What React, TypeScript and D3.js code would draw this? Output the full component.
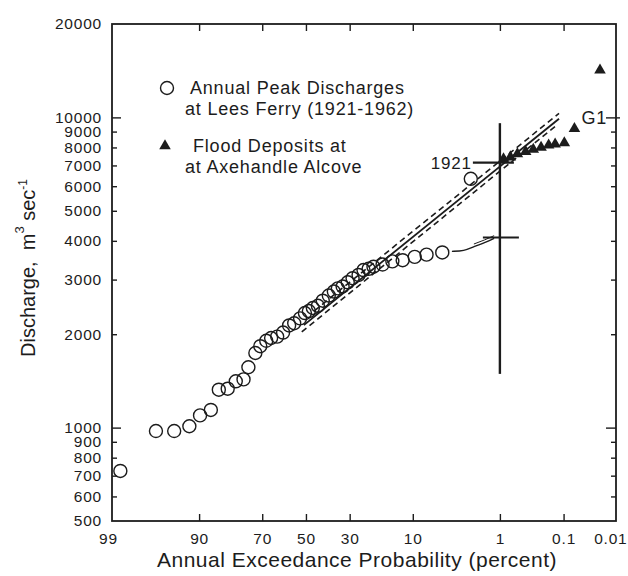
import React, { useEffect, useRef } from 'react';
import * as d3 from 'd3';

// annual peak discharges at Lees Ferry 1921-1962 (exceedance %, m3/s)
const peakProb = [98.7, 96.4, 94.3, 91.9, 89.8, 87.3, 85.2, 82.6, 80.0, 77.3, 75.5, 72.8, 70.8, 68.3,
  66.2, 63.5, 60.8, 58.0, 55.6, 52.8, 50.5, 48.6, 46.7, 44.3, 42.0, 39.2, 36.9, 35.1, 33.0, 30.8,
  28.8, 26.4, 24.5, 22.6, 20.9, 17.9, 15.0, 12.3, 9.6, 7.4, 5.1, 2.4];
const peakQ = [725, 975, 975, 1010, 1095, 1140, 1325, 1335, 1410, 1430, 1565, 1740, 1830, 1905,
  1945, 1965, 2025, 2135, 2170, 2250, 2340, 2375, 2430, 2470, 2565, 2665, 2745, 2810, 2850, 2940,
  3030, 3105, 3220, 3250, 3300, 3355, 3435, 3465, 3550, 3610, 3670, 6340];

// flood deposits at Axehandle Alcove
const depositProb = [0.89, 0.71, 0.56, 0.42, 0.32, 0.24, 0.18, 0.14, 0.097, 0.064, 0.021];
const depositQ = [7340, 7450, 7620, 7750, 7880, 8000, 8130, 8200, 8270, 9190, 14190];

// fitted curve + confidence limits
const fitProb = [51, 0.12];
const fitQ = [2140, 9900];
const upperProb = [46, 0.12];
const upperQ = [2380, 10300];
const lowerProb = [52, 0.14];
const lowerQ = [2035, 9350];

// 1921 flood marker
const markProb = 1;
const markQ = [1490, 9580];
const mark1921Q = 7150;
const markGaugeQ = 4100;
const connectorProb = [4.0, 2.9, 2.2, 1.6, 1.2];
const connectorQ = [3700, 3710, 3830, 3950, 4075];
const g1Q = 10000;

const probTicks = [99, 90, 70, 50, 30, 10, 1, 0.1, 0.01];
const probLabels = ['99', '90', '70', '50', '30', '10', '1', '0.1', '0.01'];
const qTicks = [500, 600, 700, 800, 900, 1000, 2000, 3000, 4000, 5000, 6000, 7000, 8000, 9000, 10000, 20000];
const qLabels = ['500', '600', '700', '800', '900', '1000', '2000', '3000', '4000', '5000', '6000',
  '7000', '8000', '9000', '10000', '20000'];

// inverse normal cdf (Acklam)
function invNorm(p: number): number {
  const a = [-3.969683028665376e+01, 2.209460984245205e+02, -2.759285104469687e+02, 1.383577518672690e+02, -3.066479806614716e+01, 2.506628277459239e+00];
  const b = [-5.447609879822406e+01, 1.615858368580409e+02, -1.556989798598866e+02, 6.680131188771972e+01, -1.328068155288572e+01];
  const c = [-7.784894002430293e-03, -3.223964580411365e-01, -2.400758277161838e+00, -2.549732539343734e+00, 4.374664141464968e+00, 2.938163982698783e+00];
  const d = [7.784695709041462e-03, 3.224671290700398e-01, 2.445134137142996e+00, 3.754408661907416e+00];
  const pl = 0.02425;
  if (p < pl) {
    const q = Math.sqrt(-2 * Math.log(p));
    return (((((c[0] * q + c[1]) * q + c[2]) * q + c[3]) * q + c[4]) * q + c[5]) / ((((d[0] * q + d[1]) * q + d[2]) * q + d[3]) * q + 1);
  }
  if (p <= 1 - pl) {
    const q = p - 0.5;
    const r = q * q;
    return (((((a[0] * r + a[1]) * r + a[2]) * r + a[3]) * r + a[4]) * r + a[5]) * q / (((((b[0] * r + b[1]) * r + b[2]) * r + b[3]) * r + b[4]) * r + 1);
  }
  const q = Math.sqrt(-2 * Math.log(1 - p));
  return -(((((c[0] * q + c[1]) * q + c[2]) * q + c[3]) * q + c[4]) * q + c[5]) / ((((d[0] * q + d[1]) * q + d[2]) * q + d[3]) * q + 1);
}
const zOf = (pct: number) => invNorm(1 - pct / 100);

const FONT = '"Liberation Sans", Arial, Helvetica, sans-serif';
const INK = '#1c1c1c';

const App = () => {
  const ref = useRef<SVGSVGElement>(null);

  useEffect(() => {
    const width = 628;
    const height = 576;
    const L = 112, R = 616, T = 24, B = 521;

    const svg = d3.select(ref.current);
    svg.selectAll('*').remove();
    svg.attr('width', width).attr('height', height);

    svg.append('rect').attr('width', width).attr('height', height).attr('fill', '#fff');

    const xz = d3.scaleLinear()
      .domain([zOf(probTicks[0]), zOf(probTicks[probTicks.length - 1])])
      .range([L, R]);
    const px = (p: number) => xz(zOf(p));
    const y = d3.scaleLog().domain([500, 20000]).range([B, T]);

    // axes
    const inner = probTicks.slice(1, -1);
    const bottom = svg.append('g').attr('transform', `translate(0,${B})`)
      .call(d3.axisBottom(xz)
        .tickValues(probTicks.map(zOf))
        .tickFormat((d, i) => probLabels[i])
        .tickSize(-7)
        .tickSizeOuter(0)
        .tickPadding(12));
    bottom.selectAll('.tick').filter((d, i) => i === 0 || i === probTicks.length - 1)
      .select('line').remove();
    bottom.selectAll('.tick').filter((d, i) => i === probTicks.length - 1)
      .select('text').attr('text-anchor', 'end').attr('x', 11);
    bottom.selectAll('.tick').filter((d, i) => i === 0)
      .select('text').attr('x', -4);

    svg.append('g').attr('transform', `translate(0,${T})`)
      .call(d3.axisTop(xz)
        .tickValues(inner.map(zOf))
        .tickFormat(() => '')
        .tickSize(-7)
        .tickSizeOuter(0));

    const left = svg.append('g').attr('transform', `translate(${L},0)`)
      .call(d3.axisLeft(y)
        .tickValues(qTicks)
        .tickFormat((d, i) => qLabels[i])
        .tickSize(-5)
        .tickSizeOuter(0)
        .tickPadding(10));
    left.selectAll('.tick line').filter((d: any) => d === 1000 || d === 10000).attr('x2', 9);
    left.selectAll('.tick').filter((d: any) => d === 500 || d === 20000).select('line').remove();

    const right = svg.append('g').attr('transform', `translate(${R},0)`)
      .call(d3.axisRight(y)
        .tickValues(qTicks.slice(1, -1))
        .tickFormat(() => '')
        .tickSize(-5)
        .tickSizeOuter(0));
    right.selectAll('.tick line').filter((d: any) => d === 1000).attr('x2', -10);
    right.selectAll('.tick line').filter((d: any) => d === 10000).attr('x1', 4).attr('x2', -10);

    svg.selectAll('.domain').remove();
    svg.selectAll('.tick line').attr('stroke', INK).attr('stroke-width', 1.4);
    svg.selectAll('.tick text')
      .attr('font-family', FONT)
      .attr('font-size', 15.5)
      .attr('letter-spacing', 0.8)
      .attr('fill', INK);

    svg.append('rect')
      .attr('x', L).attr('y', T)
      .attr('width', R - L).attr('height', B - T)
      .attr('fill', 'none')
      .attr('stroke', INK)
      .attr('stroke-width', 1.8);

    // axis titles
    svg.append('text')
      .attr('x', (L + R) / 2 - 7)
      .attr('y', 567)
      .attr('text-anchor', 'middle')
      .attr('font-family', FONT)
      .attr('font-size', 21)
      .attr('letter-spacing', 0.5)
      .attr('fill', INK)
      .text('Annual Exceedance Probability (percent)');

    const yTitle = svg.append('text')
      .attr('transform', 'translate(35,268) rotate(-90)')
      .attr('text-anchor', 'middle')
      .attr('font-family', FONT)
      .attr('font-size', 20)
      .attr('fill', INK);
    yTitle.append('tspan').text('Discharge,\u00a0\u00a0m');
    yTitle.append('tspan').attr('dy', -11).attr('font-size', 13).text('3');
    yTitle.append('tspan').attr('dy', 11).text('\u00a0sec');
    yTitle.append('tspan').attr('dy', -8).attr('font-size', 12).text('-1');

    // fitted line + limits
    const line = d3.line<[number, number]>()
      .x(d => px(d[0]))
      .y(d => y(d[1]));
    const pairs = (ps: number[], qs: number[]) => ps.map((p, i) => [p, qs[i]] as [number, number]);

    svg.append('path')
      .attr('d', line(pairs(fitProb, fitQ)))
      .attr('fill', 'none')
      .attr('stroke', INK)
      .attr('stroke-width', 1.8);
    [[upperProb, upperQ], [lowerProb, lowerQ]].forEach(([ps, qs]) => {
      svg.append('path')
        .attr('d', line(pairs(ps, qs)))
        .attr('fill', 'none')
        .attr('stroke', INK)
        .attr('stroke-width', 1.6)
        .attr('stroke-dasharray', '6,4');
    });

    // 1921 marker
    const mx = px(markProb);
    svg.append('line')
      .attr('x1', mx).attr('x2', mx)
      .attr('y1', y(markQ[0])).attr('y2', y(markQ[1]))
      .attr('stroke', INK)
      .attr('stroke-width', 2.4);
    svg.append('line')
      .attr('x1', mx - 27).attr('x2', mx + 14)
      .attr('y1', y(mark1921Q)).attr('y2', y(mark1921Q))
      .attr('stroke', INK)
      .attr('stroke-width', 2.4);
    svg.append('line')
      .attr('x1', mx - 17).attr('x2', mx + 19)
      .attr('y1', y(markGaugeQ)).attr('y2', y(markGaugeQ))
      .attr('stroke', INK)
      .attr('stroke-width', 2);
    svg.append('path')
      .attr('d', d3.line<[number, number]>().x(d => px(d[0])).y(d => y(d[1])).curve(d3.curveBasis)(pairs(connectorProb, connectorQ)))
      .attr('fill', 'none')
      .attr('stroke', INK)
      .attr('stroke-width', 1.4);
    svg.append('path')
      .attr('d', line(pairs(connectorProb.slice(2), connectorQ.slice(2).map(q => q * 1.02))))
      .attr('fill', 'none')
      .attr('stroke', INK)
      .attr('stroke-width', 1);

    svg.append('text')
      .attr('x', mx - 28)
      .attr('y', y(mark1921Q) + 6)
      .attr('text-anchor', 'end')
      .attr('font-family', FONT)
      .attr('font-size', 17)
      .attr('letter-spacing', 0.8)
      .attr('fill', INK)
      .text('1921');

    svg.append('text')
      .attr('x', R - 9)
      .attr('y', y(g1Q) + 7)
      .attr('text-anchor', 'end')
      .attr('font-family', FONT)
      .attr('font-size', 18)
      .attr('letter-spacing', 0.8)
      .attr('fill', INK)
      .text('G1');

    // points
    svg.append('g').selectAll('circle')
      .data(peakProb)
      .enter()
      .append('circle')
      .attr('cx', d => px(d))
      .attr('cy', (d, i) => y(peakQ[i]))
      .attr('r', 6.5)
      .attr('fill', 'none')
      .attr('stroke', INK)
      .attr('stroke-width', 1.4);

    const tri = d3.symbol().type(d3.symbolTriangle).size(58);
    svg.append('g').selectAll('path')
      .data(depositProb)
      .enter()
      .append('path')
      .attr('d', tri())
      .attr('transform', (d, i) => `translate(${px(d)},${y(depositQ[i])})`)
      .attr('fill', INK);

    // legend
    const legend = svg.append('g')
      .attr('font-family', FONT)
      .attr('font-size', 18)
      .attr('letter-spacing', 0.8)
      .attr('fill', INK);
    legend.append('circle')
      .attr('cx', 167).attr('cy', 88).attr('r', 6.5)
      .attr('fill', 'none').attr('stroke', INK).attr('stroke-width', 1.4);
    legend.append('text').attr('x', 190).attr('y', 94).text('Annual Peak Discharges');
    legend.append('text').attr('x', 185).attr('y', 115).text('at Lees Ferry (1921-1962)');
    legend.append('path')
      .attr('d', tri())
      .attr('transform', 'translate(165,146)')
      .attr('fill', INK);
    legend.append('text').attr('x', 193).attr('y', 152).text('Flood Deposits at');
    legend.append('text').attr('x', 185).attr('y', 173).text('at Axehandle Alcove');
  }, []);

  return (
    <svg ref={ref} style={{ position: 'absolute', left: 0, top: 0, display: 'block' }}></svg>
  );
};

export default App;
